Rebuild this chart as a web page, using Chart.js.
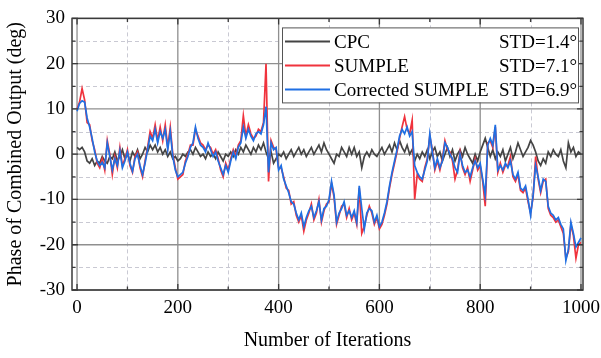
<!DOCTYPE html>
<html>
<head>
<meta charset="utf-8">
<script src="https://cdn.jsdelivr.net/npm/chart.js@4.4.1/dist/chart.umd.min.js"></script>
<style>
    html, body { margin: 0; padding: 0; background: #ffffff; }
    #chart-box { width: 601px; height: 358px; position: relative; }
</style>
</head>
<body>
<div id="chart-box"><canvas id="phaseChart"></canvas></div>
<script>
// iteration index, sampled every 5 iterations
const iterations = Array.from({length: 201}, (_, i) => i * 5);

const cpcPhase = [
    1.5, 1.0, 1.5, 0.5, -1.5, -2.0, -1.0, -2.5, -1.5, -2.0,
    -0.5, -1.5, -2.0, -0.5, -1.0, 0.5, -1.5, -0.5, 1.0, -1.0,
    0.0, -1.5, 0.5, -0.5, 1.0, -1.0, 0.0, 1.5, 0.5, 2.0,
    1.0, 2.0, 0.5, 1.5, 0.0, 1.0, -0.5, 0.5, -1.0, -0.5,
    -1.5, -1.0, 0.0, -0.5, 0.5, 1.0, 0.0, 1.5, 0.5, -0.5,
    0.0, -1.0, 0.5, -0.5, 0.0, -1.0, 0.5, -0.5, -1.5, 0.0,
    -0.5, 0.5, -0.5, 1.0, 0.0, 1.5, 0.5, 2.0, 1.0, 0.0,
    1.5, 0.5, 2.0, 1.0, 2.5, 0.5, -1.0, 0.5, -2.0, -1.0,
    0.0, -0.5, 0.5, -1.0, 0.0, 1.0, -0.5, 0.5, 1.5, 0.0,
    1.0, -0.5, 0.5, 1.5, 0.0, 1.0, 2.0, 0.5, 2.5, 1.0,
    0.0, -1.0, -2.0, 0.0, -0.5, 1.5, 0.5, -0.5, 1.5, 0.0,
    1.5, -0.5, 0.5, -3.0, -0.5, 0.5, -0.5, 1.0, 0.0, -0.5,
    0.5, 1.5, 0.0, 1.0, 2.0, 0.5, 2.5, 1.0, 3.0, 1.5,
    0.5, 2.0, 0.0, 1.0, -1.5, 0.0, -1.0, 0.5, -0.5, 1.0,
    -1.0, 0.5, 1.5, -0.5, 0.5, -1.5, 0.0, 1.5, -0.5, 1.0,
    -1.5, 0.0, 1.0, -0.5, 1.5, 0.0, -1.0, -2.0, 0.0, -1.5,
    0.5, 2.0, 3.5, 1.5, -0.5, 1.0, -1.0, 0.5, -0.5, 1.0,
    -1.5, 0.0, 1.5, -1.0, 0.5, 2.5, 1.0, -0.5, 0.5, 1.5,
    3.0, 2.0, 0.5, -1.5, -2.5, -1.0, -2.0, 0.5, -0.5, 1.0,
    0.0, -0.5, 1.0, -1.5, -3.0, 2.5, 0.5, 1.5, -0.5, 0.5,
    0.0
];

const sumplePhase = [
    10.0, 11.5, 14.5, 12.0, 7.0, 6.5, 3.0, 1.0, -2.0, -3.0,
    -1.0, -3.5, 3.0, 0.0, -4.5, -0.5, -3.0, 1.5, -2.5, -1.0,
    1.0, -2.5, -4.0, -0.5, 0.5, -3.0, -5.0, -1.5, 1.5, 5.0,
    3.5, 6.5, 3.0, 6.0, 3.0, 6.5, 1.5, 6.0, 0.0, -3.0,
    -5.5, -5.0, -4.5, -1.5, 0.0, 2.0, 2.0, 5.5, 4.0, 2.5,
    2.0, 1.0, 2.0, 1.5, 0.0, 1.0, -1.0, -3.5, -5.0, -2.0,
    -3.5, -1.0, 1.0, -0.5, 2.0, 3.0, 8.5, 4.0, 6.5, 4.5,
    3.5, 4.0, 5.5, 5.0, 7.0, 20.0, -6.0, 3.0, 1.5, 1.0,
    -3.0, -3.0, -5.0, -7.5, -8.0, -11.0, -10.5, -13.5, -15.0, -13.5,
    -17.0, -14.5, -13.0, -11.0, -14.5, -13.0, -10.0, -15.0, -12.5, -11.0,
    -10.5, -6.5, -9.5, -15.5, -13.5, -11.5, -11.0, -14.0, -12.0, -14.5,
    -13.0, -15.5, -7.5, -17.5, -16.0, -13.5, -11.5, -13.0, -15.5, -14.0,
    -16.5, -15.5, -13.5, -11.0, -7.5, -4.5, -2.0, 0.5, 3.5, 6.0,
    8.3, 5.5, 4.5, 7.5, -10.0, -4.5, -5.5, -6.0, -3.0, -1.0,
    4.0, 1.0, -3.5, -1.5, -3.5, -1.0, 3.0, 1.0, 0.5, -1.5,
    -5.5, -3.5, 0.5, -3.0, -4.5, -3.0, -6.0, -3.5, -1.0, -3.5,
    -2.5, -6.0, -11.5, 2.5, 3.0, 1.5, 6.0, -4.0, -2.0, -4.0,
    -2.5, -2.5, -0.5, -5.0, -6.0, -4.5, -8.0, -8.5, -7.5, -10.5,
    -13.0, -9.5, -0.5, -5.5, -8.5, -6.0, -5.5, -12.0, -13.5, -14.0,
    -15.0, -14.5, -16.0, -17.5, -23.0, -21.5, -15.5, -18.0, -23.0, -20.0,
    -19.5
];

const correctedPhase = [
    9.5, 11.2, 11.8, 11.5, 8.0, 6.0, 3.5, 0.5, -1.5, -2.5,
    -1.8, -3.0, 2.5, -0.5, -3.5, -1.0, -2.5, 0.8, -3.0, -1.5,
    0.5, -2.0, -3.8, -1.0, 0.0, -2.5, -4.5, -2.0, 1.0, 4.0,
    3.0, 5.5, 2.5, 5.0, 3.5, 5.5, 1.0, 5.0, -0.5, -3.5,
    -5.0, -4.5, -4.0, -2.0, -0.5, 1.5, 2.5, 6.0, 3.5, 2.0,
    1.5, 0.5, 2.5, 1.0, -0.5, 0.5, -1.5, -3.0, -4.5, -2.5,
    -4.0, -1.5, 0.5, -1.0, 1.5, 2.5, 6.0, 3.5, 5.5, 4.0,
    3.0, 4.5, 5.0, 4.5, 6.5, 10.5, -4.0, 2.5, 1.0, 1.5,
    -3.5, -2.5, -5.5, -7.0, -8.5, -10.5, -11.0, -13.0, -14.5, -13.0,
    -16.0, -14.0, -12.5, -11.5, -14.0, -12.5, -10.5, -14.5, -12.0, -11.5,
    -10.0, -6.0, -9.0, -15.0, -13.0, -12.0, -10.5, -13.5, -12.5, -14.0,
    -12.5, -15.0, -7.0, -12.0, -16.5, -13.0, -12.0, -12.5, -15.0, -13.5,
    -16.0, -15.0, -13.0, -10.5, -7.0, -4.0, -1.5, 1.0, 4.0, 5.5,
    4.5, 6.0, 4.0, 5.0, -2.5, -4.0, -5.0, -5.5, -3.5, -1.5,
    4.5, 0.5, -3.0, -1.0, -3.0, -1.5, 2.5, 1.5, 0.0, -1.0,
    -3.0, -4.0, 0.0, -2.5, -4.0, -3.5, -5.0, -3.0, -1.5, -3.0,
    -2.0, -5.5, -9.0, 2.0, 3.5, 2.0, 6.5, -3.5, -2.5, -3.5,
    -2.0, -3.0, -1.5, -4.5, -5.5, -4.0, -7.5, -8.0, -7.0, -10.0,
    -13.5, -9.0, -2.5, -5.0, -8.0, -5.5, -6.0, -11.5, -13.0, -13.5,
    -14.5, -14.0, -15.5, -16.5, -23.5, -21.0, -15.0, -17.5, -20.5, -19.5,
    -18.5
];

const seriesNames = ["CPC", "SUMPLE", "Corrected SUMPLE"];
const stdLabels = ["STD=1.4°", "STD=7.1°", "STD=6.9°"];
const seriesColors = ["#444444", "#f0333d", "#1f6fe3"];

// tick positions: labelled majors, dashed minors in between
const xMajor = [0, 200, 400, 600, 800, 1000];
const xMinor = [100, 300, 500, 700, 900];
const yMajor = [-30, -20, -10, 0, 10, 20, 30];
const yMinor = [-25, -15, -5, 5, 15, 25];

const serif = "'Liberation Serif', 'Times New Roman', serif";

function toPoints(values) {
    return values.map((v, i) => ({x: iterations[i], y: v}));
}

// grid, inner tick marks and the boxed legend
const framePlugin = {
    id: "frame",
    beforeDatasetsDraw(chart) {
        const {ctx, chartArea: a, scales: {x, y}} = chart;
        ctx.save();
        ctx.lineWidth = 1;
        ctx.strokeStyle = "#c9c9d3";
        ctx.setLineDash([4, 3]);
        xMinor.forEach(v => {
            const px = Math.round(x.getPixelForValue(v)) + 0.5;
            ctx.beginPath(); ctx.moveTo(px, a.top); ctx.lineTo(px, a.bottom); ctx.stroke();
        });
        yMinor.forEach(v => {
            const py = Math.round(y.getPixelForValue(v)) + 0.5;
            ctx.beginPath(); ctx.moveTo(a.left, py); ctx.lineTo(a.right, py); ctx.stroke();
        });
        ctx.setLineDash([]);
        ctx.strokeStyle = "#8f8f8f";
        ctx.lineWidth = 1.3;
        xMajor.forEach(v => {
            const px = x.getPixelForValue(v);
            ctx.beginPath(); ctx.moveTo(px, a.top); ctx.lineTo(px, a.bottom); ctx.stroke();
        });
        yMajor.forEach(v => {
            const py = y.getPixelForValue(v);
            ctx.beginPath(); ctx.moveTo(a.left, py); ctx.lineTo(a.right, py); ctx.stroke();
        });
        ctx.restore();
    },
    afterDatasetsDraw(chart) {
        const {ctx, chartArea: a, scales: {x, y}} = chart;
        ctx.save();
        ctx.strokeStyle = "#3a3a3a";
        ctx.lineWidth = 1.5;
        ctx.strokeRect(a.left, a.top, a.right - a.left, a.bottom - a.top);

        const tick = (vals, len, horizontal) => {
            vals.forEach(v => {
                ctx.beginPath();
                if (horizontal) {
                    const px = x.getPixelForValue(v);
                    ctx.moveTo(px, a.bottom); ctx.lineTo(px, a.bottom - len);
                    ctx.moveTo(px, a.top); ctx.lineTo(px, a.top + len);
                } else {
                    const py = y.getPixelForValue(v);
                    ctx.moveTo(a.left, py); ctx.lineTo(a.left + len, py);
                    ctx.moveTo(a.right, py); ctx.lineTo(a.right - len, py);
                }
                ctx.stroke();
            });
        };
        ctx.lineWidth = 1.3;
        tick(xMajor, 6, true);
        tick(xMinor, 3.5, true);
        tick(yMajor, 6, false);
        tick(yMinor, 3.5, false);

        // legend box in the upper right corner
        const boxRight = a.right - 5;
        const boxLeft = boxRight - 296;
        const boxTop = a.top + 9;
        const boxH = 75;
        ctx.fillStyle = "#ffffff";
        ctx.fillRect(boxLeft, boxTop, boxRight - boxLeft, boxH);
        ctx.strokeStyle = "#555555";
        ctx.lineWidth = 1;
        ctx.strokeRect(boxLeft + 0.5, boxTop + 0.5, boxRight - boxLeft, boxH);

        ctx.font = "19px " + serif;
        ctx.textBaseline = "alphabetic";
        seriesNames.forEach((name, i) => {
            const rowMid = boxTop + 14 + i * 24;
            ctx.strokeStyle = seriesColors[i];
            ctx.lineWidth = 2;
            ctx.beginPath();
            ctx.moveTo(boxLeft + 3, rowMid);
            ctx.lineTo(boxLeft + 48, rowMid);
            ctx.stroke();
            ctx.fillStyle = "#000000";
            ctx.textAlign = "left";
            ctx.fillText(name, boxLeft + 52, rowMid + 6.5);
            ctx.textAlign = "right";
            ctx.fillText(stdLabels[i], boxRight - 1, rowMid + 6.5);
        });
        ctx.restore();
    }
};

const ctx = document.getElementById("phaseChart").getContext("2d");
const chart = new Chart(ctx, {
    type: "line",
    data: {
        datasets: [
            {label: seriesNames[0], data: toPoints(cpcPhase), borderColor: seriesColors[0], order: 3},
            {label: seriesNames[1], data: toPoints(sumplePhase), borderColor: seriesColors[1], order: 2},
            {label: seriesNames[2], data: toPoints(correctedPhase), borderColor: seriesColors[2], order: 1}
        ]
    },
    options: {
        responsive: true,
        maintainAspectRatio: false,
        animation: false,
        layout: {padding: {top: 13, right: 18, left: 0, bottom: 0}},
        elements: {
            point: {radius: 0},
            line: {borderWidth: 1.7, tension: 0}
        },
        scales: {
            x: {
                type: "linear",
                min: -10,
                max: 1004,
                afterBuildTicks: scale => { scale.ticks = xMajor.map(v => ({value: v})); },
                afterFit: scale => {
                    scale.height = 68;
                    // the "1000" label may hang into the right margin
                    scale.paddingRight = 0;
                    scale.paddingLeft = 0;
                },
                grid: {display: false, drawTicks: false},
                border: {display: false},
                ticks: {
                    color: "#000000",
                    font: {family: serif, size: 19},
                    padding: 7,
                    maxRotation: 0,
                    callback: v => String(v)
                },
                title: {
                    display: true,
                    text: "Number of Iterations",
                    color: "#000000",
                    font: {family: serif, size: 20},
                    padding: {top: 0, bottom: 5}
                }
            },
            y: {
                min: -30,
                max: 30,
                afterBuildTicks: scale => { scale.ticks = yMajor.map(v => ({value: v})); },
                afterFit: scale => { scale.width = 72; },
                grid: {display: false, drawTicks: false},
                border: {display: false},
                ticks: {
                    color: "#000000",
                    font: {family: serif, size: 19},
                    padding: 7,
                    callback: v => String(v)
                },
                title: {
                    display: true,
                    text: "Phase of Combined Output (deg)",
                    color: "#000000",
                    font: {family: serif, size: 20},
                    padding: {top: 4, bottom: 0}
                }
            }
        },
        plugins: {
            legend: {display: false},
            tooltip: {enabled: false}
        }
    },
    plugins: [framePlugin]
});
</script>
</body>
</html>
